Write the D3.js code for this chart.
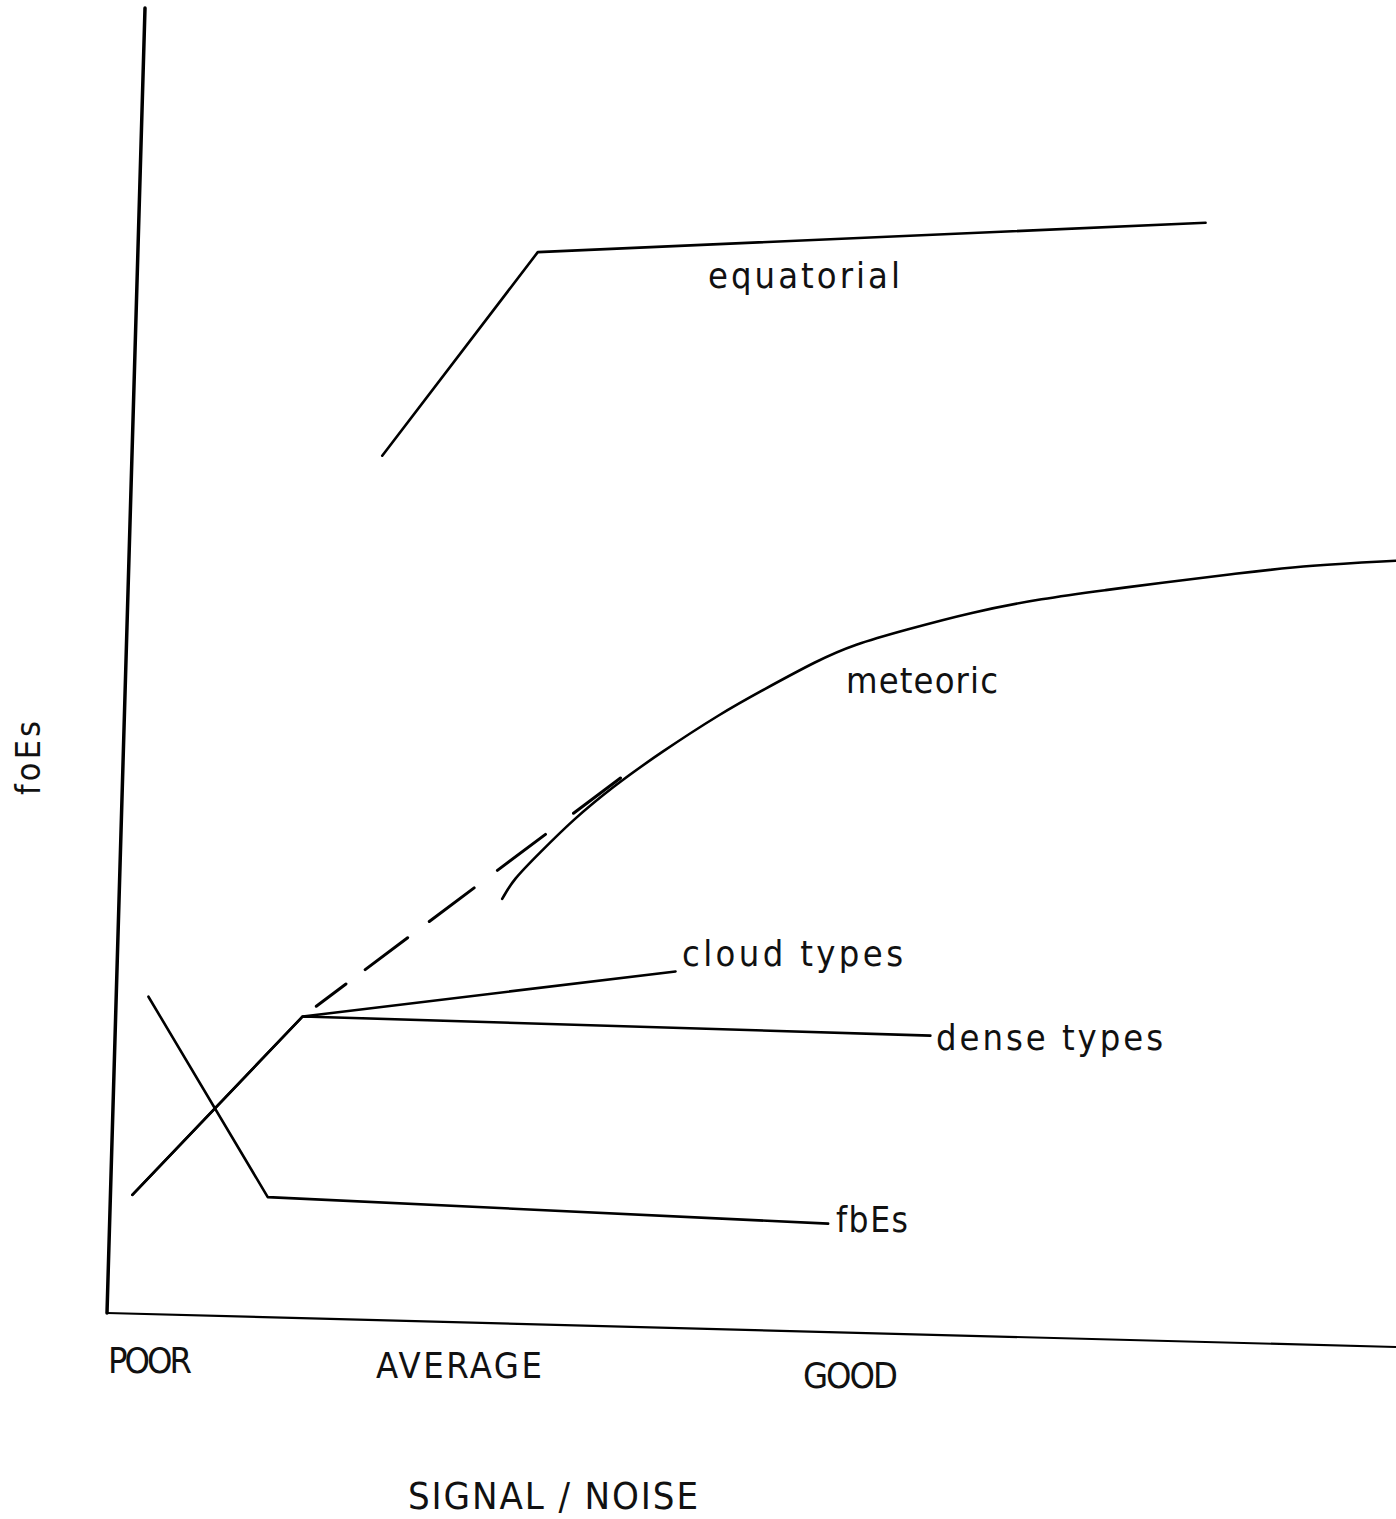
<!DOCTYPE html>
<html>
<head>
<meta charset="utf-8">
<script src="https://cdn.jsdelivr.net/npm/d3@7"></script>
<style>
  html, body { margin: 0; padding: 0; background: #fff; }
  svg { display: block; }
  text { font-family: "DejaVu Sans Condensed", "DejaVu Sans", sans-serif; font-stretch: condensed; fill: #111; }
</style>
</head>
<body>
<script>
// Schematic: foEs against signal/noise for the different Es types.
// Values are in arbitrary units: x (signal/noise) 0..100, y (foEs) 0..100.

const categories = ["POOR", "AVERAGE", "GOOD"];

// shared low-signal rise, then splitting into cloud and dense types
const cloudTypes = [[1.7, 9.1], [14.5, 23.1], [43.3, 27.3]];
const denseTypes = [[1.7, 9.1], [14.5, 23.1], [63.2, 22.9]];
const fbEs = [[2.5, 24.3], [12.2, 9.2], [55.7, 8.3]];
const equatorial = [[19.4, 66.2], [31.0, 82.1], [82.7, 85.7]];
const meteoric = [
  [29.7, 32.5], [30.5, 34.0], [32.5, 36.1], [35.0, 38.7], [38.0, 41.3],
  [41.6, 44.0], [46.3, 47.2], [49.4, 49.0], [53.6, 51.4], [56.4, 52.7],
  [60.3, 53.9], [65.4, 55.4], [70.9, 56.6], [76.0, 57.4], [79.8, 58.0],
  [85.8, 58.9], [91.7, 59.7], [98.2, 60.2]
];
// uncertain link from the branching point up to the meteoric curve
const meteoricLink = [[14.5, 23.1], [38.6, 42.0]];

const W = 1396, H = 1519;
const svg = d3.select("body").append("svg")
  .attr("width", W).attr("height", H)
  .attr("viewBox", `0 0 ${W} ${H}`);

// axes drawn slightly out of square, as on the original sheet
const x = d3.scaleLinear().domain([0, 100]).range([0, 1289]);
const y = d3.scaleLinear().domain([0, 100]).range([0, -1305]);
const skew = { b: 34 / 1289, c: -38 / 1305, ox: 107, oy: 1313 };

const plot = svg.append("g")
  .attr("transform", `matrix(1, ${skew.b}, ${skew.c}, 1, ${skew.ox}, ${skew.oy})`);

const line = d3.line().x(d => x(d[0])).y(d => y(d[1]));
const smooth = d3.line().x(d => x(d[0])).y(d => y(d[1])).curve(d3.curveBasis);

// axes
plot.append("path")
  .attr("d", line([[0, 100], [0, 0]]))
  .attr("fill", "none").attr("stroke", "#000").attr("stroke-width", 3.5)
  .attr("stroke-linecap", "round");
plot.append("path")
  .attr("d", line([[0, 0], [100, 0]]))
  .attr("fill", "none").attr("stroke", "#000").attr("stroke-width", 2.2);

const solid = [cloudTypes, denseTypes, fbEs, equatorial];
plot.selectAll("path.series")
  .data(solid)
  .join("path")
  .attr("class", "series")
  .attr("d", line)
  .attr("fill", "none")
  .attr("stroke", "#000")
  .attr("stroke-width", 2.6)
  .attr("stroke-linejoin", "round")
  .attr("stroke-linecap", "round");

plot.append("path")
  .attr("d", smooth(meteoric))
  .attr("fill", "none").attr("stroke", "#000").attr("stroke-width", 2.6)
  .attr("stroke-linecap", "round");

plot.append("path")
  .attr("d", line(meteoricLink))
  .attr("fill", "none").attr("stroke", "#000").attr("stroke-width", 3)
  .attr("stroke-linecap", "round")
  .attr("stroke-dasharray", "37,24,53,27,56,29,60,35,60,400")
  .attr("stroke-dashoffset", -17);

// curve labels
const curveLabels = [
  { t: "equatorial", x: 708, y: 288, len: 192, fs: 36 },
  { t: "meteoric", x: 846, y: 693, len: 152, fs: 36 },
  { t: "cloud types", x: 682, y: 966, len: 221, fs: 36 },
  { t: "dense types", x: 936, y: 1050, len: 227, fs: 36 },
  { t: "fbEs", x: 836, y: 1232, len: 72, fs: 35 }
];
svg.selectAll("text.curve")
  .data(curveLabels)
  .join("text")
  .attr("class", "curve")
  .attr("x", d => d.x).attr("y", d => d.y)
  .attr("font-size", d => d.fs)
  .attr("textLength", d => d.len)
  .attr("lengthAdjust", "spacing")
  .text(d => d.t);

// category labels along the signal/noise axis
const catPos = [
  { x: 108, y: 1373, len: 84 },
  { x: 376, y: 1378, len: 166 },
  { x: 803, y: 1388, len: 95 }
];
svg.selectAll("text.cat")
  .data(categories)
  .join("text")
  .attr("class", "cat")
  .attr("x", (d, i) => catPos[i].x).attr("y", (d, i) => catPos[i].y)
  .attr("font-size", 36)
  .attr("textLength", (d, i) => catPos[i].len)
  .attr("lengthAdjust", "spacing")
  .text(d => d);

svg.append("text")
  .attr("x", 408).attr("y", 1509)
  .attr("font-size", 38)
  .attr("textLength", 290)
  .attr("lengthAdjust", "spacing")
  .text("SIGNAL / NOISE");

svg.append("text")
  .attr("transform", "translate(40,758) rotate(-90)")
  .attr("text-anchor", "middle")
  .attr("font-size", 34)
  .attr("textLength", 74)
  .attr("lengthAdjust", "spacing")
  .text("foEs");
</script>
</body>
</html>
